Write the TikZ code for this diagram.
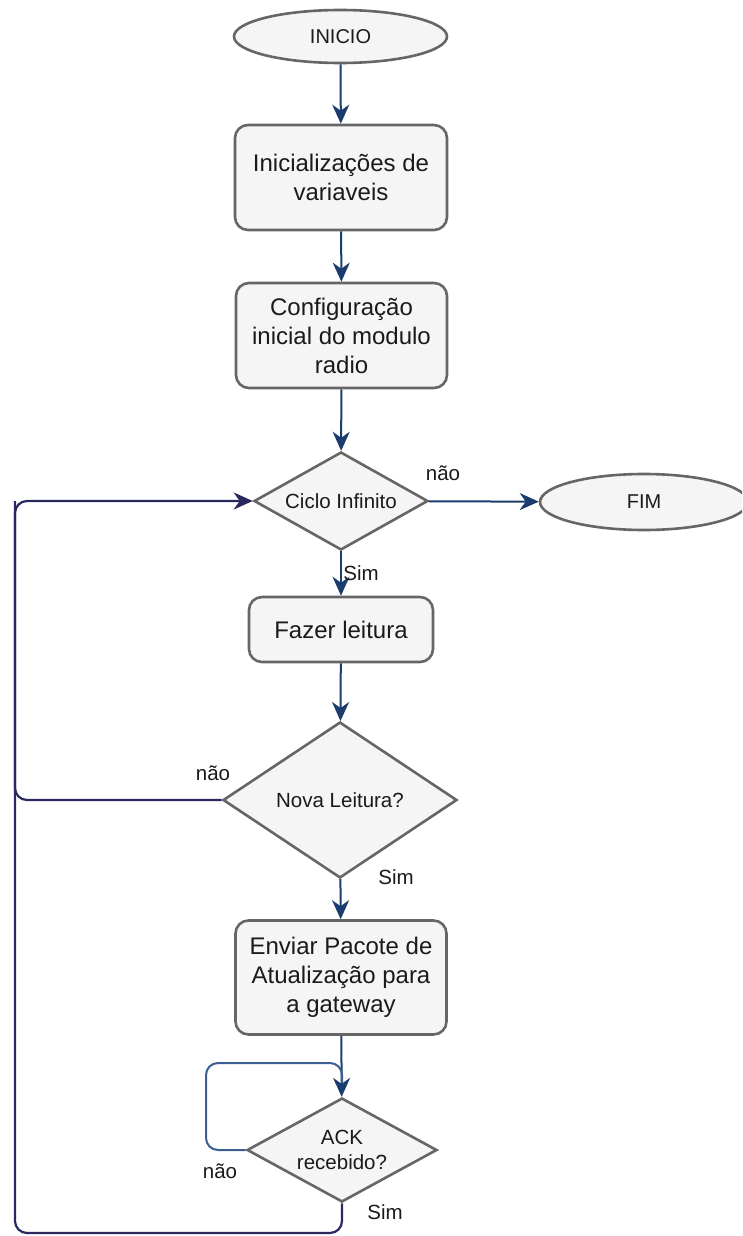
\documentclass[tikz,border=0pt]{standalone}
\usepackage{fontspec}
\setmainfont{Liberation Sans}
\usetikzlibrary{shapes.geometric,arrows.meta}
\definecolor{shapefill}{HTML}{F5F5F5}
\definecolor{shapeline}{HTML}{666666}
\definecolor{flow}{HTML}{1B3C6E}
\definecolor{backloop}{HTML}{28295E}
\definecolor{ackloop}{HTML}{3A5F90}
\definecolor{ink}{HTML}{1A1A1A}
\tikzset{
  base/.style={draw=shapeline, fill=shapefill, line width=2.6pt, inner sep=0pt, text=ink, align=center},
  terminal/.style={base, ellipse, font=\fontsize{20}{24}\selectfont},
  process/.style={base, rectangle, rounded corners=13pt, font=\fontsize{24}{29}\selectfont},
  decision/.style={base, diamond, font=\fontsize{20.5}{25}\selectfont},
  tip/.style={-{Stealth[length=19pt,width=17pt,inset=6pt]}},
  flowarrow/.style={draw=flow, line width=2pt, tip},
  lbl/.style={text=ink, font=\fontsize{20.5}{24}\selectfont, inner sep=0pt},
}
\begin{document}
\begin{tikzpicture}[x=1pt,y=-1pt]
\clip (0,0) rectangle (742,1236);
\fill[white] (0,0) rectangle (742,1236);

% shapes
\node[terminal, minimum width=213pt, minimum height=53pt] (ini) at (340.5,36.5) {INICIO};
\node[process, minimum width=212pt, minimum height=105pt] (vars) at (341,177.5) {Inicializações de\\variaveis};
\node[process, minimum width=211pt, minimum height=105pt] (cfg) at (341.5,335.5) {Configuração\\inicial do modulo\\radio};
\node[decision, shape aspect=1.78, minimum width=174pt, minimum height=98pt] (loop) at (341,501) {Ciclo Infinito};
\node[terminal, minimum width=208pt, minimum height=56pt] (fim) at (644,502) {FIM};
\node[process, minimum width=184pt, minimum height=65pt] (read) at (341,629.5) {Fazer leitura};
\node[decision, shape aspect=1.52, minimum width=234pt, minimum height=156pt] (nova) at (340,800) {Nova Leitura?};
\node[process, minimum width=211pt, minimum height=114pt] (send) at (341,977.5) {Enviar Pacote de\\Atualização para\\a gateway};
\node[decision, shape aspect=1.83, minimum width=190pt, minimum height=104pt] (ack) at (342,1150) {ACK\\recebido?};

% main flow
\draw[flowarrow] (ini) -- (vars);
\draw[flowarrow] (vars) -- (cfg);
\draw[flowarrow] (cfg) -- (loop);
\draw[flowarrow] (loop) -- (fim);
\draw[flowarrow] (loop) -- (read);
\draw[flowarrow] (read) -- (nova);
\draw[flowarrow] (nova) -- (send);
\draw[flowarrow] (send) -- (ack);

% return paths
\coordinate (left) at (15,501);
\coordinate (novaleft) at (15,800);
\coordinate (bottom) at (15,1233);
\coordinate (ackdown) at (342,1233);
\draw[draw=backloop, line width=2.2pt, rounded corners=12pt, tip]
  (nova.west) -- (novaleft) -- (left) -- (loop.west);
\draw[draw=backloop, line width=2.2pt, rounded corners=12pt]
  (ack.south) -- (ackdown) -- (bottom) -- (left);
\coordinate (ackl) at (206,1150);
\coordinate (ackt) at (206,1063);
\coordinate (ackr) at (342,1063);
\draw[draw=ackloop, line width=2pt, rounded corners=12pt]
  (ack.west) -- (ackl) -- (ackt) -- (ackr) -- ([yshift=14pt]ack.north);

% labels
\node[lbl] (l1) at (443,473) {não};
\node[lbl] (l2) at (361,573) {Sim};
\node[lbl] (l3) at (213,773) {não};
\node[lbl] (l4) at (396,877) {Sim};
\node[lbl] (l5) at (220,1171) {não};
\node[lbl] (l6) at (385,1212) {Sim};
\end{tikzpicture}
\end{document}
